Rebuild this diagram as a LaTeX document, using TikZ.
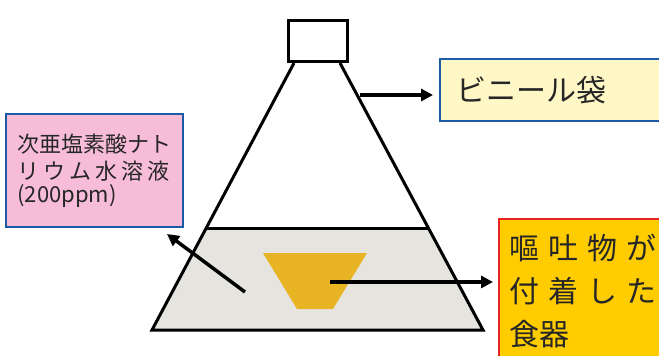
\documentclass[tikz,border=0pt]{standalone}
\usepackage{fontspec}
\setmainfont{Noto Sans CJK JP}
\usetikzlibrary{arrows.meta,calc}
\definecolor{bagyellow}{HTML}{FFF8C6}
\definecolor{solpink}{HTML}{F7BDD8}
\definecolor{dishorange}{HTML}{FFCC00}
\definecolor{frameblue}{HTML}{1A5AA6}
\definecolor{framered}{HTML}{E8231B}
\definecolor{cupgold}{HTML}{E9B424}
\definecolor{liquid}{HTML}{E6E4DE}
\tikzset{
  label box/.style={draw, line width=2pt, anchor=north west, align=left, text=black!85},
  pointer/.style={line width=3.5pt, -{Triangle[length=12pt,width=12pt]}},
}
\newcommand\wgap{\hspace{9pt}}
\newcommand\ngap{\hspace{4pt}}
\begin{document}
\begin{tikzpicture}[x=1pt,y=-1pt]
\useasboundingbox (0,0) rectangle (659,356);
\clip (0,0) rectangle (659,356);
\coordinate (bl) at (152,330);
\coordinate (br) at (483,330);
\coordinate (tl) at (294,63);
\coordinate (tr) at (340,63);
% solution level inside the bag
\coordinate (ll) at ($(bl)!0.382!(tl)$);
\coordinate (lr) at ($(br)!0.382!(tr)$);
\fill[liquid] (ll) -- (lr) -- (br) -- (bl) -- cycle;
\draw[line width=3pt] (ll) -- (lr);
\draw[line width=3pt] (tl) -- (bl) -- (br) -- (tr);
\draw[line width=3pt, fill=white] (288,20) rectangle (347,61);
% dish
\fill[cupgold] (263,253) -- (367,253) -- (333,309) -- (297,309) -- cycle;

\node[label box, fill=solpink, draw=frameblue, minimum width=177pt, minimum height=113pt,
  inner xsep=4pt, font=\fontsize{22}{27}\selectfont] (sol) at (5,113)
  {次亜塩素酸ナト\\リ\ngap ウ\ngap ム\ngap 水\ngap 溶\ngap 液\\[-4pt](200ppm)};
\node[label box, fill=bagyellow, draw=frameblue, text width=200pt, minimum height=62pt,
  inner xsep=16pt, font=\fontsize{30}{36}\selectfont] (bag) at (439,58) {ビニール袋};
\node[label box, fill=dishorange, draw=framered, text width=200pt,
  inner xsep=10pt, inner ysep=15pt, font=\fontsize{30}{43}\selectfont] (dish) at (498,218)
  {嘔\wgap 吐\wgap 物\wgap が\\付\wgap 着\wgap し\wgap た\\食器};

\coordinate (bagpt) at (360,95);
\coordinate (cuppt) at (330,282);
\coordinate (wipe) at (245,292);
\coordinate (soltip) at ($(sol.south east)+(-17,6)$);
\draw[pointer, shorten >=6pt] (bagpt) -- (bag.west |- bagpt);
\draw[pointer, shorten >=5pt] (cuppt) -- (dish.west |- cuppt);
\draw[pointer] (wipe) -- (soltip);
\end{tikzpicture}
\end{document}
